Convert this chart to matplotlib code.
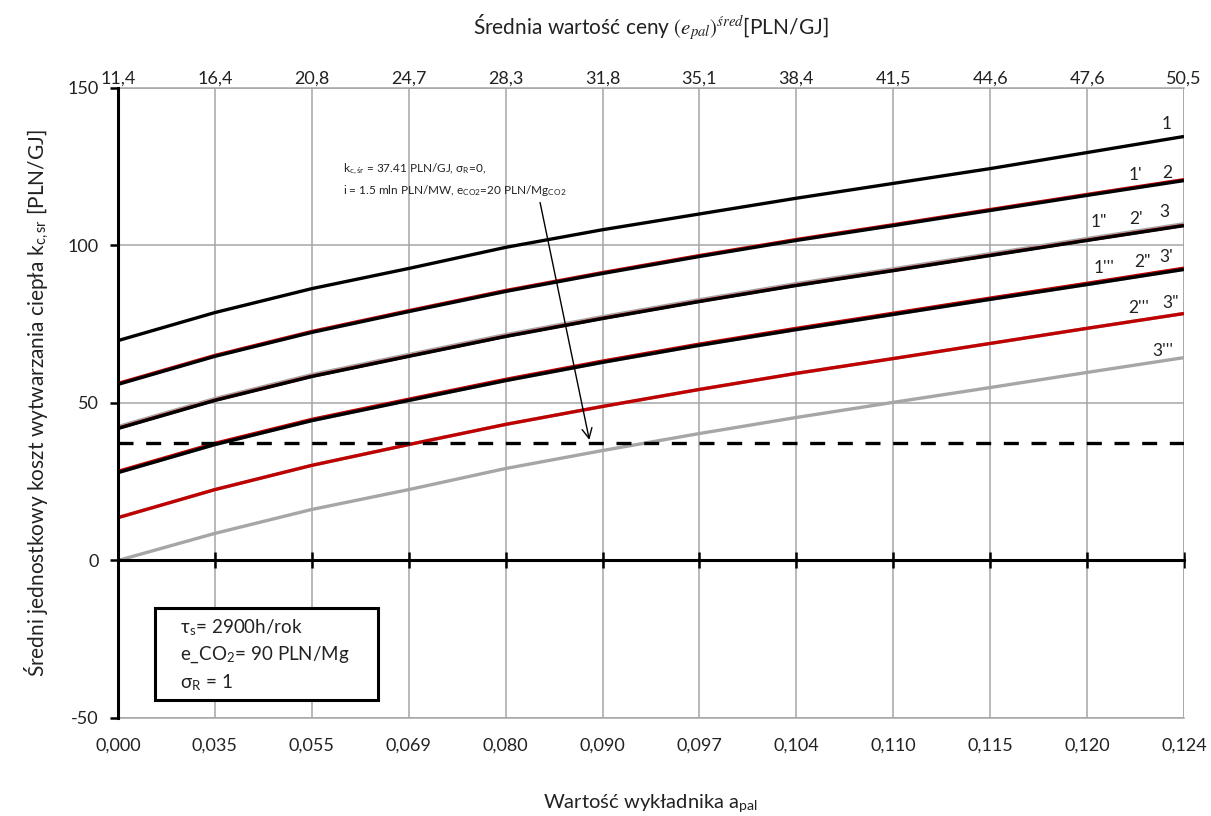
import matplotlib
matplotlib.use("Agg")
import matplotlib.pyplot as plt
from matplotlib.patches import Rectangle

plt.rcParams['font.family'] = ['Lato', 'DejaVu Sans']
plt.rcParams['mathtext.fontset'] = 'stix'
plt.rcParams['axes.unicode_minus'] = False

# category axis: exponent a_pal (bottom) and mean fuel price (top)
a_pal = ["0,000", "0,035", "0,055", "0,069", "0,080", "0,090",
         "0,097", "0,104", "0,110", "0,115", "0,120", "0,124"]
e_pal = ["11,4", "16,4", "20,8", "24,7", "28,3", "31,8",
         "35,1", "38,4", "41,5", "44,6", "47,6", "50,5"]

# mean unit heat generation cost k_c,sr [PLN/GJ]
k1    = [69.8, 78.7, 86.3, 92.7, 99.4, 105.0, 110.0, 115.0, 119.7, 124.4, 129.5, 134.6]
k1p   = [55.9, 64.8, 72.4, 79.0, 85.4, 91.1, 96.5, 101.6, 106.3, 111.1, 115.9, 120.6]
k1pp  = [41.9, 50.8, 58.4, 64.8, 71.1, 76.8, 82.2, 87.3, 92.0, 96.8, 101.6, 106.3]
k1ppp = [27.9, 36.8, 44.4, 50.8, 57.1, 62.9, 68.3, 73.3, 78.1, 82.9, 87.6, 92.4]
k2    = [56.2, 65.1, 72.7, 79.3, 85.7, 91.4, 96.8, 101.9, 106.6, 111.4, 116.2, 120.9]
k2p   = [42.0, 50.9, 58.5, 64.9, 71.2, 76.9, 82.3, 87.4, 92.1, 96.9, 101.7, 106.4]
k2pp  = [28.3, 37.2, 44.8, 51.2, 57.5, 63.3, 68.7, 73.7, 78.5, 83.3, 88.0, 92.8]
k2ppp = [13.6, 22.5, 30.2, 36.8, 43.2, 48.9, 54.3, 59.4, 64.1, 68.9, 73.7, 78.4]
k3    = [42.5, 51.4, 59.0, 65.4, 71.7, 77.4, 82.8, 87.9, 92.6, 97.4, 102.2, 106.9]
k3p   = [27.9, 36.8, 44.4, 50.8, 57.1, 62.9, 68.3, 73.3, 78.1, 82.9, 87.6, 92.4]
k3pp  = [13.6, 22.5, 30.2, 36.8, 43.2, 48.9, 54.3, 59.4, 64.1, 68.9, 73.7, 78.4]
k3ppp = [0.0, 8.6, 16.2, 22.5, 29.2, 34.9, 40.3, 45.4, 50.2, 54.9, 59.7, 64.4]

k_ref = 37.41  # reference cost level

# curve names and where their names sit at the right end
curve_names = ["1", "1'", "2", "1\"", "2'", "3",
               "1'''", "2\"", "3'", "2'''", "3\"", "3'''"]
name_x = [10.82, 10.50, 10.83, 10.12, 10.50, 10.80,
          10.18, 10.57, 10.82, 10.53, 10.86, 10.78]
name_y = [138.6, 122.4, 123.0, 107.3, 108.4, 110.6,
          93.0, 94.6, 96.4, 80.3, 81.8, 66.5]

BLACK = "#000000"
RED = "#C00000"
GRAY = "#A6A6A6"

fig = plt.figure(figsize=(12.11, 8.16), dpi=100)
ax = fig.add_axes([0.0974, 0.1201, 0.8803, 0.7721])

x = list(range(len(a_pal)))
lw = 2.4

# grey family first, then red, then black on top
for ys in (k3ppp, k3pp, k3p, k3):
    ax.plot(x, ys, color=GRAY, lw=lw, solid_capstyle='butt', zorder=3)
for ys in (k2ppp, k2pp, k2p, k2):
    ax.plot(x, ys, color=RED, lw=lw, solid_capstyle='butt', zorder=4)
for ys in (k1ppp, k1pp, k1p, k1):
    ax.plot(x, ys, color=BLACK, lw=lw, solid_capstyle='butt', zorder=5)

ax.plot([x[0], x[-1]], [k_ref, k_ref], color=BLACK, lw=2.4,
        dashes=(4.5, 3.8), zorder=6)

ax.set_xlim(0, len(a_pal) - 1)
ax.set_ylim(-50, 150)

# grid
ax.set_yticks([-50, 0, 50, 100, 150])
ax.set_xticks(x)
ax.grid(True, color="#A6A6A6", lw=1.1, zorder=0)
ax.set_axisbelow(True)

for s in ('top', 'right'):
    ax.spines[s].set_visible(False)
ax.spines['left'].set_color(BLACK)
ax.spines['left'].set_linewidth(2.2)
ax.spines['left'].set_zorder(7)
ax.spines['bottom'].set_position(('data', 0))
ax.spines['bottom'].set_linewidth(2.2)
ax.spines['bottom'].set_zorder(7)

ax.tick_params(axis='x', direction='inout', length=12, width=1.8,
               labelbottom=False)
ax.tick_params(axis='y', direction='out', length=6, width=1.8,
               labelsize=13, pad=8, labelcolor="#222222")

# bottom category labels
bot = ax.secondary_xaxis(0.0)
bot.set_xticks(x)
bot.set_xticklabels(a_pal, fontsize=13, color="#222222")
bot.tick_params(length=0, pad=14)
bot.spines['bottom'].set_color(GRAY)
bot.spines['bottom'].set_linewidth(1.1)
bot.set_xlabel(r"Wartość wykładnika a$_{\mathregular{pal}}$", fontsize=14.5,
               labelpad=28, color="#222222")

# top category labels
top = ax.secondary_xaxis('top')
top.set_xticks(x)
top.set_xticklabels(e_pal, fontsize=13, color="#222222")
top.tick_params(length=0, pad=1)
top.spines['top'].set_color(GRAY)
top.spines['top'].set_linewidth(1.1)
top.set_xlabel(r"Średnia wartość ceny $\left(e_{pal}\right)^{śred}$[PLN/GJ]",
               fontsize=15, labelpad=26, color="#222222")

ax.set_ylabel(r"Średni jednostkowy koszt wytwarzania ciepła k$_{\mathregular{c,sr}}$ [PLN/GJ]",
              fontsize=15, labelpad=12, color="#222222")

# right frame line
ax.axvline(x[-1], color=GRAY, lw=1.1, zorder=1)

# curve names at the right end
for name, nx, ny in zip(curve_names, name_x, name_y):
    ax.text(nx, ny, name, fontsize=12.5, color="#222222",
            ha='center', va='center', zorder=8)

# annotation for the reference cost level
ax.annotate("", xy=(4.87, k_ref), xytext=(4.35, 114.5),
            arrowprops=dict(arrowstyle='->', color=BLACK, lw=1.0,
                            mutation_scale=18), zorder=8)
ax.text(2.32, 126.5,
        r"k$_{\mathregular{c,ś r}}$ = 37.41 PLN/GJ, σ$_{\mathregular{R}}$=0," "\n"
        r"i = 1.5 mln PLN/MW, e$_{\mathregular{CO2}}$=20 PLN/Mg$_{\mathregular{CO2}}$",
        fontsize=8.5, color="#222222", ha='left', va='top', linespacing=1.5,
        zorder=8)

# parameter box
box = Rectangle((0.0347, 0.0286), 0.2092, 0.146, transform=ax.transAxes,
                facecolor='white', edgecolor=BLACK, lw=2.2, zorder=8)
ax.add_patch(box)
ax.text(0.058, 0.160,
        "τ$_\\mathregular{s}$= 2900h/rok\n"
        "e_CO$_\\mathregular{2}$= 90 PLN/Mg\n"
        "σ$_\\mathregular{R}$ = 1",
        transform=ax.transAxes, fontsize=13.5, color="#222222",
        ha='left', va='top', linespacing=1.45, zorder=9)

fig.savefig("out.png", dpi=100, facecolor='white')
